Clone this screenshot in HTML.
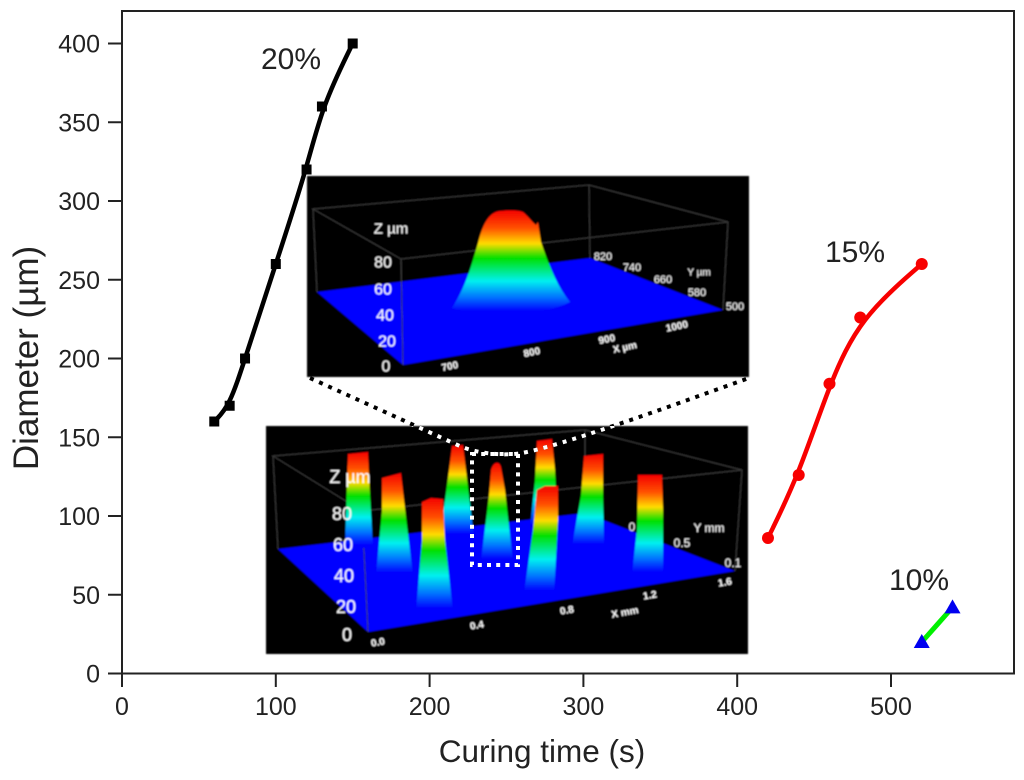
<!DOCTYPE html>
<html lang="en">
<head>
<meta charset="utf-8">
<title>Diameter vs curing time</title>
<style>
html,body{margin:0;padding:0;background:#fff;width:1024px;height:780px;overflow:hidden}
svg{display:block;font-family:"Liberation Sans",sans-serif}
.w{fill:#fff;text-anchor:middle;dominant-baseline:central}
</style>
</head>
<body>
<svg id="chart" width="1024" height="780" viewBox="0 0 1024 780" xmlns="http://www.w3.org/2000/svg">
<defs>
<linearGradient id="g" x1="0" y1="0" x2="0" y2="1">
<stop offset="0" stop-color="#f40000"/><stop offset=".17" stop-color="#ff5000"/><stop offset=".32" stop-color="#ffdc00"/><stop offset=".46" stop-color="#00e000"/><stop offset=".68" stop-color="#00f0f0"/><stop offset=".84" stop-color="#0070ff"/><stop offset=".97" stop-color="#0000ff"/>
</linearGradient>
<filter id="soft" x="-5%" y="-5%" width="110%" height="110%"><feGaussianBlur stdDeviation="0.7"/></filter>
<clipPath id="lower-clip"><rect x="266" y="426" width="482" height="228"/></clipPath>
</defs>
<rect width="1024" height="780" fill="#fff"/>

<g filter="url(#soft)">
<rect x="307" y="176" width="442" height="201" fill="#000"/>
<g fill="none" stroke="#3a3a3a" stroke-width="1">
<path d="M313 209L589 185L728 222L401 259Z M313 209L317 292 M589 185L590 258 M728 222L723 310 M401 259L403 365"/>
</g>
<polygon points="317,292 590,258 723,310 403,365" fill="#0000ff"/>
<path d="M452 308C467 285 472 262 478 243C483 222 490 212 500 211C510 210 518 210 523 212C529 217 532 222 536 225L538 222L541 242C548 262 556 285 570 302C545 316 480 318 452 308Z" fill="url(#g)"/>
<path d="M401 259L403 365" fill="none" stroke="#3a3a3a"/>
<text class="w" x="391" y="229" font-size="15">Z µm</text>
<text class="w" x="383" y="263" font-size="16">80</text>
<text class="w" x="383" y="290" font-size="16">60</text>
<text class="w" x="385" y="316" font-size="16">40</text>
<text class="w" x="387" y="342" font-size="16">20</text>
<text class="w" x="386" y="367" font-size="16">0</text>
<text class="w" x="603" y="257" font-size="11">820</text>
<text class="w" x="632" y="268" font-size="11">740</text>
<text class="w" x="663" y="280" font-size="11">660</text>
<text class="w" x="697" y="293" font-size="11">580</text>
<text class="w" x="735" y="307" font-size="11">500</text>
<text class="w" x="699" y="273" font-size="10">Y µm</text>
<text class="w" x="450" y="367" font-size="10" font-weight="bold" transform="rotate(-12 450 367)">700</text>
<text class="w" x="532" y="353" font-size="10" font-weight="bold" transform="rotate(-12 532 353)">800</text>
<text class="w" x="607" y="340" font-size="10" font-weight="bold" transform="rotate(-12 607 340)">900</text>
<text class="w" x="677" y="327" font-size="10" font-weight="bold" transform="rotate(-12 677 327)">1000</text>
<text class="w" x="625" y="348" font-size="10" font-weight="bold" transform="rotate(-12 625 348)">X µm</text>
</g>

<g filter="url(#soft)">
<rect x="266" y="426" width="482" height="228" fill="#000"/>
<path d="M273 456L585 430L742 470L362 511Z M273 456L278 549 M585 430L585 513 M742 470L735 571 M362 511L368 632" fill="none" stroke="#3a3a3a"/>
<polygon points="278,549 585,513 735,571 368,632" fill="#0000ff"/>
<path d="M362 511L368 632" fill="none" stroke="#3a3a3a"/>
<path d="M348 454L368 452L369 475L373 548L345 548L347 480Z" fill="url(#g)"/>
<path d="M452 446L463 445L466 470L474 537L440 537L449 470Z" fill="url(#g)"/>
<path d="M537 441L552 439L555 470L558 528L530 528L535 480Z" fill="url(#g)"/>
<path d="M382 478L401 473L404 500L413 576L376 576L382 510Z" fill="url(#g)"/>
<path d="M422 502L431 498L443 499L445 540L453 612L416 612L422 540Z" fill="url(#g)"/>
<path d="M491 470C493 462 499 460 501 467L505 490L513 562L481 562L489 495Z" fill="url(#g)"/>
<path d="M537 490L545 486L558 486L558 520L554 594L524 594L533 530Z" fill="url(#g)"/>
<path d="M584 456L603 454L603 490L604 547L572 547L581 495Z" fill="url(#g)"/>
<path d="M638 475L662 475L663 510L663 575L632 575L637 530Z" fill="url(#g)"/>
<text class="w" x="350" y="477" font-size="18">Z µm</text>
<text class="w" x="342" y="514" font-size="18">80</text>
<text class="w" x="343" y="545" font-size="18">60</text>
<text class="w" x="344" y="576" font-size="18">40</text>
<text class="w" x="346" y="607" font-size="18">20</text>
<text class="w" x="347" y="635" font-size="18">0</text>
<text class="w" x="632" y="527" font-size="12">0</text>
<text class="w" x="682" y="543" font-size="12">0.5</text>
<text class="w" x="733" y="563" font-size="12">0.1</text>
<text class="w" x="709" y="528" font-size="12">Y mm</text>
<text class="w" x="378" y="643" font-size="10" font-weight="bold" transform="rotate(-10 378 643)">0.0</text>
<text class="w" x="477" y="626" font-size="10" font-weight="bold" transform="rotate(-10 477 626)">0.4</text>
<text class="w" x="567" y="611" font-size="10" font-weight="bold" transform="rotate(-10 567 611)">0.8</text>
<text class="w" x="650" y="596" font-size="10" font-weight="bold" transform="rotate(-10 650 596)">1.2</text>
<text class="w" x="725" y="583" font-size="10" font-weight="bold" transform="rotate(-10 725 583)">1.6</text>
<text class="w" x="625" y="613" font-size="10" font-weight="bold" transform="rotate(-10 625 613)">X mm</text>
</g>

<g fill="none">
<path d="M310 378L462 447C480 454 505 456 522 453C560 446 660 410 749 378" stroke="#000" stroke-width="4" stroke-dasharray="4 6"/>
<path clip-path="url(#lower-clip)" d="M310 378L462 447C480 454 505 456 522 453C560 446 660 410 749 378" stroke="#fff" stroke-width="4" stroke-dasharray="4 6"/>
<rect x="472" y="454" width="46" height="111" stroke="#fff" stroke-width="4" stroke-dasharray="4 5.2"/>
</g>

<g id="axes"></g>
<g id="marks"></g>

<text x="542" y="762" text-anchor="middle" font-size="31.5" fill="#222">Curing time (s)</text>
<text x="38" y="358" text-anchor="middle" font-size="35" fill="#222" transform="rotate(-90 38 358)">Diameter (µm)</text>
<text x="291" y="69" text-anchor="middle" font-size="30" fill="#222">20%</text>
<text x="855" y="262" text-anchor="middle" font-size="30" fill="#222">15%</text>
<text x="919" y="590" text-anchor="middle" font-size="30" fill="#222">10%</text>
</svg>

<script>
const xTicks = [0, 100, 200, 300, 400, 500];
const yTicks = [0, 50, 100, 150, 200, 250, 300, 350, 400];
const time20 = [60, 70, 80, 100, 120, 130, 150];
const diameter20 = [160, 170, 200, 260, 320, 360, 400];
const time15 = [420, 440, 460, 480, 520];
const diameter15 = [86, 126, 184, 226, 260];
const time10 = [520, 540];
const diameter10 = [20, 42];

const NS = 'http://www.w3.org/2000/svg';
const sx = v => 122 + v * 1.538;
const sy = v => 673.5 - v * 1.575;
const axes = document.getElementById('axes');
const marks = document.getElementById('marks');

function mk(parent, tag, attrs) {
  const el = document.createElementNS(NS, tag);
  for (const k in attrs) el.setAttribute(k, attrs[k]);
  parent.appendChild(el);
  return el;
}
// Uniform cubic B-spline with the data as control points, clamped at both ends.
function curve(xs, ys) {
  const p = xs.map((x, i) => [sx(x), sy(ys[i])]);
  const q = [p[0], p[0]].concat(p, [p[p.length - 1], p[p.length - 1]]);
  let d = 'M' + p[0][0] + ' ' + p[0][1];
  for (let i = 1; i < q.length - 2; i++) {
    const a = q[i - 1], b = q[i], c = q[i + 1], e = q[i + 2];
    d += 'C' + (2 * b[0] + c[0]) / 3 + ' ' + (2 * b[1] + c[1]) / 3 + ' ' +
         (b[0] + 2 * c[0]) / 3 + ' ' + (b[1] + 2 * c[1]) / 3 + ' ' +
         (b[0] + 4 * c[0] + e[0]) / 6 + ' ' + (b[1] + 4 * c[1] + e[1]) / 6;
  }
  return d;
}

const frame = mk(axes, 'rect', {x: 122, y: 11, width: 892, height: 662.5, fill: 'none', stroke: '#222', 'stroke-width': 2});



xTicks.forEach(v => {
  const t = mk(axes, 'line', {x1: sx(v), x2: sx(v), y1: 673.5, y2: 687, stroke: '#222', 'stroke-width': 2});
  
  
  const l = mk(axes, 'text', {x: sx(v), y: 715, 'text-anchor': 'middle', 'font-size': 25, fill: '#222'});
  
  
  l.textContent = v;
});
yTicks.forEach(v => {
  const t = mk(axes, 'line', {x1: 108, x2: 122, y1: sy(v), y2: sy(v), stroke: '#222', 'stroke-width': 2});
  
  
  const l = mk(axes, 'text', {x: 100, y: sy(v) + 9, 'text-anchor': 'end', 'font-size': 25, fill: '#222'});
  
  
  l.textContent = v;
});

const line20 = mk(marks, 'path', {d: curve(time20, diameter20), fill: 'none', stroke: '#000', 'stroke-width': 4.5});


time20.forEach((x, i) => {
  const m = mk(marks, 'rect', {x: sx(x) - 5, y: sy(diameter20[i]) - 5, width: 10, height: 10, fill: '#000'});
  
  
});

const line15 = mk(marks, 'path', {d: curve(time15, diameter15), fill: 'none', stroke: '#f80000', 'stroke-width': 4.5});


time15.forEach((x, i) => {
  const m = mk(marks, 'circle', {cx: sx(x), cy: sy(diameter15[i]), r: 6, fill: '#f80000'});
  
  
});

const line10 = mk(marks, 'path', {d: curve(time10, diameter10), fill: 'none', stroke: '#00f000', 'stroke-width': 5});


time10.forEach((x, i) => {
  const cx = sx(x), cy = sy(diameter10[i]);
  const m = mk(marks, 'polygon', {points: (cx - 8) + ',' + (cy + 6) + ' ' + (cx + 8) + ',' + (cy + 6) + ' ' + cx + ',' + (cy - 8), fill: '#0000f0'});
  
  
});
</script>
</body>
</html>
